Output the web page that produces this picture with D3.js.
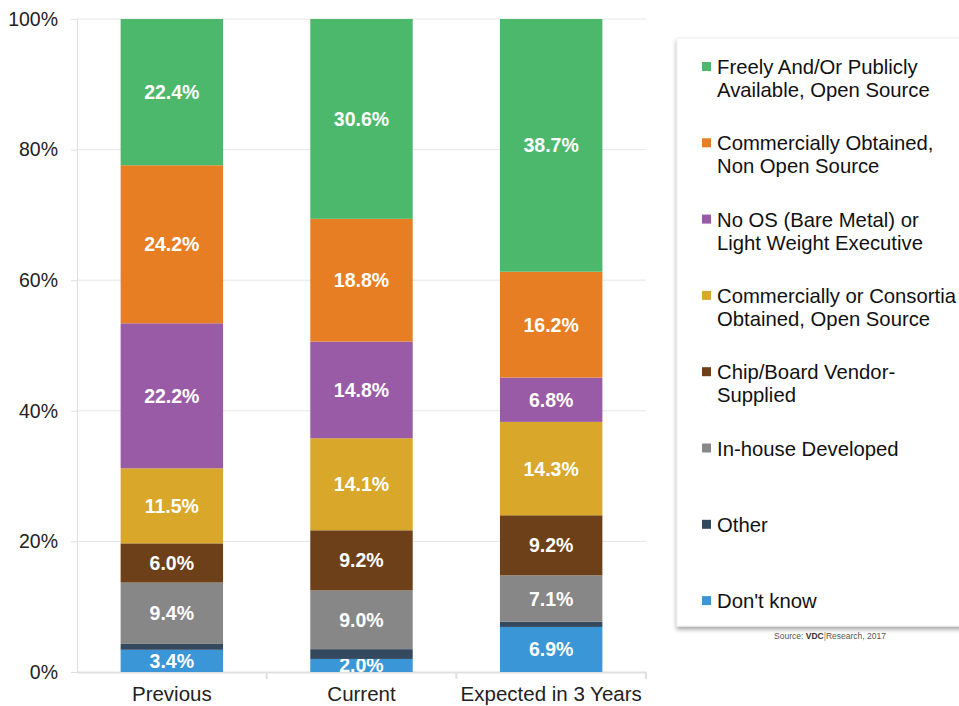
<!DOCTYPE html>
<html><head><meta charset="utf-8">
<script src="https://cdn.jsdelivr.net/npm/d3@7"></script>
<style>body{margin:0;background:#fff;} svg{display:block;font-family:"Liberation Sans",Arial,sans-serif;}</style>
</head><body>
<svg id="c" width="959" height="706"></svg>
<script>
const categories = ["Previous", "Current", "Expected in 3 Years"];
const seriesNames = ["Don't know", "Other", "In-house Developed", "Chip/Board Vendor-Supplied",
  "Commercially or Consortia Obtained, Open Source", "No OS (Bare Metal) or Light Weight Executive",
  "Commercially Obtained, Non Open Source", "Freely And/Or Publicly Available, Open Source"];
const dontKnow   = [3.4, 2.0, 6.9];
const other      = [0.9, 1.5, 0.8];
const inHouse    = [9.4, 9.0, 7.1];
const chipBoard  = [6.0, 9.2, 9.2];
const commConsOS = [11.5, 14.1, 14.3];
const noOS       = [22.2, 14.8, 6.8];
const commNonOS  = [24.2, 18.8, 16.2];
const freelyOS   = [22.4, 30.6, 38.7];
const colors = ["#3a96d6", "#34495e", "#878787", "#6d4019", "#d9a82a", "#9a5ba6", "#e87e23", "#4cb86b"];
const showLabel = [true, false, true, true, true, true, true, true];
const yTicks = [0, 20, 40, 60, 80, 100];
const legendLines = [
  ["Freely And/Or Publicly", "Available, Open Source"],
  ["Commercially Obtained,", "Non Open Source"],
  ["No OS (Bare Metal) or", "Light Weight Executive"],
  ["Commercially or Consortia", "Obtained, Open Source"],
  ["Chip/Board Vendor-", "Supplied"],
  ["In-house Developed"],
  ["Other"],
  ["Don't know"]
];
const legendColors = ["#4cb86b", "#e87e23", "#9a5ba6", "#d9a82a", "#6d4019", "#878787", "#34495e", "#3a96d6"];

const seriesVals = [dontKnow, other, inHouse, chipBoard, commConsOS, noOS, commNonOS, freelyOS];
const svg = d3.select("#c");
const mLeft = 77, mRight = 646, mTop = 19, mBottom = 672;
const x = d3.scaleBand().domain(categories).range([mLeft, mRight]).paddingInner(0.46).paddingOuter(0.23);
const y = d3.scaleLinear().domain([0, 100]).range([mBottom, mTop]);

// gridlines
svg.append("g").selectAll("line").data(yTicks.filter(d => d > 0)).join("line")
  .attr("x1", mLeft).attr("x2", mRight).attr("y1", d => y(d)).attr("y2", d => y(d))
  .attr("stroke", "#e6e6e6").attr("stroke-width", 1);

// y axis
const ya = svg.append("g").attr("transform", `translate(${mLeft},0)`)
  .call(d3.axisLeft(y).tickValues(yTicks).tickFormat(d => d + "%").tickSize(6).tickPadding(13));
ya.select(".domain").attr("stroke", "#e0e0e0");
ya.selectAll(".tick line").attr("stroke", "#e0e0e0");
ya.selectAll("text").attr("font-size", 19.5).attr("fill", "#222").attr("font-family", "Liberation Sans, Arial, sans-serif");

// x axis
const xa = svg.append("g").attr("transform", `translate(0,${mBottom})`)
  .call(d3.axisBottom(x).tickSize(0).tickPadding(14));
xa.select(".domain").attr("stroke", "#e0e0e0").attr("stroke-width", 2);
xa.selectAll("text").attr("font-size", 20.5).attr("fill", "#222").attr("font-family", "Liberation Sans, Arial, sans-serif");
// band boundary ticks
const bounds = categories.map(c => x(c) + x.bandwidth() + x.step() * x.paddingInner() / 2);
svg.append("g").selectAll("line").data(bounds).join("line")
  .attr("x1", d => d).attr("x2", d => d).attr("y1", mBottom).attr("y2", mBottom + 7)
  .attr("stroke", "#e0e0e0").attr("stroke-width", 2);

// stacked bars
const rows = categories.map((c, i) => {
  const r = {cat: c};
  seriesNames.forEach((s, j) => r[s] = seriesVals[j][i]);
  return r;
});
const stack = d3.stack().keys(seriesNames)(rows);
stack.forEach((layer, j) => {
  const g = svg.append("g");
  g.selectAll("rect").data(layer).join("rect")
    .attr("x", d => x(d.data.cat)).attr("width", x.bandwidth())
    .attr("y", d => y(d[1])).attr("height", d => y(d[0]) - y(d[1]))
    .attr("fill", colors[j]);
  if (showLabel[j]) {
    g.selectAll("text").data(layer).join("text")
      .attr("x", d => x(d.data.cat) + x.bandwidth() / 2)
      .attr("y", d => (y(d[0]) + y(d[1])) / 2)
      .attr("dy", "0.36em").attr("text-anchor", "middle")
      .attr("font-size", 19.5).attr("font-weight", "bold").attr("fill", "#fff")
      .text(d => (d[1] - d[0]).toFixed(1) + "%");
  }
});

// legend
const defs = svg.append("defs");
const f = defs.append("filter").attr("id", "sh").attr("x", "-5%").attr("y", "-5%").attr("width", "110%").attr("height", "110%");
f.append("feDropShadow").attr("dx", 0).attr("dy", 3).attr("stdDeviation", 2).attr("flood-color", "#000").attr("flood-opacity", 0.35);
svg.append("rect").attr("x", 677).attr("y", 38).attr("width", 300).attr("height", 588)
  .attr("fill", "#fff").attr("stroke", "#f0f0f0").attr("filter", "url(#sh)");
const lg = svg.append("g");
legendLines.forEach((lines, i) => {
  const y0 = 67 + i * 76.3;
  lg.append("rect").attr("x", 702).attr("y", y0 - 5).attr("width", 9).attr("height", 9).attr("fill", legendColors[i]);
  lines.forEach((t, k) => {
    lg.append("text").attr("x", 717).attr("y", y0 + k * 23).attr("dy", "0.35em")
      .attr("font-size", 20.3).attr("fill", "#111").text(t);
  });
});
// source
const src = svg.append("text").attr("x", 830).attr("y", 639).attr("text-anchor", "middle").attr("font-size", 8.5).attr("fill", "#555");
src.append("tspan").text("Source: ");
src.append("tspan").attr("font-weight", "bold").attr("fill", "#333").text("VDC");
src.append("tspan").attr("fill", "#4a9a6a").text("|");
src.append("tspan").text("Research, 2017");
</script>
</body></html>
